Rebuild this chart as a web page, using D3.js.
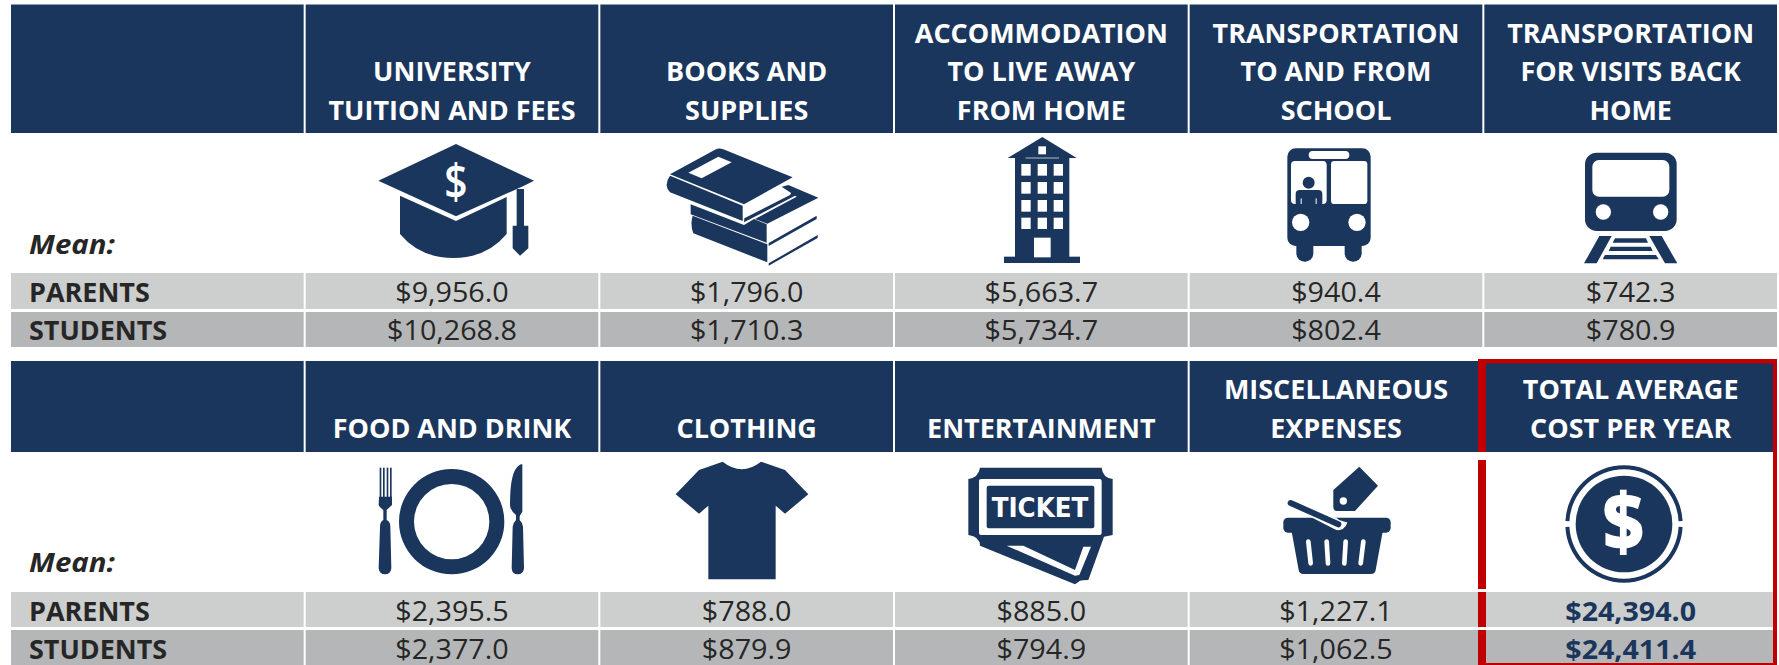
<!DOCTYPE html>
<html><head><meta charset="utf-8">
<script src="https://cdn.jsdelivr.net/npm/d3@7/dist/d3.min.js"></script>
<style>html,body{margin:0;background:#fff;overflow:hidden}svg{display:block}text{font-family:"Open Sans",sans-serif}</style>
</head><body><svg id="c" width="1779" height="665"></svg>
<script>
// ---- data ----
const headersTop = [["UNIVERSITY","TUITION AND FEES"],["BOOKS AND","SUPPLIES"],["ACCOMMODATION","TO LIVE AWAY","FROM HOME"],["TRANSPORTATION","TO AND FROM","SCHOOL"],["TRANSPORTATION","FOR VISITS BACK","HOME"]];
const headersBottom = [["FOOD AND DRINK"],["CLOTHING"],["ENTERTAINMENT"],["MISCELLANEOUS","EXPENSES"],["TOTAL AVERAGE","COST PER YEAR"]];
const parentsTop = [9956.0,1796.0,5663.7,940.4,742.3];
const studentsTop = [10268.8,1710.3,5734.7,802.4,780.9];
const parentsBottom = [2395.5,788.0,885.0,1227.1,24394.0];
const studentsBottom = [2377.0,879.9,794.9,1062.5,24411.4];
const rowLabels = ["PARENTS","STUDENTS"];
const meanLabel = "Mean:";

const NAVY="#1b365d", ROW1="#cdcfce", ROW2="#b5b6b8", INK="#262626", RED="#c00000";
const svg=d3.select("#c");
const x=d3.scaleBand().domain(d3.range(6)).range([11,1777]).paddingInner(2/294.4);
const fmt=d3.format("$,.1f");

// panels: vertical layout
const panels=[
 {head:headersTop,p:parentsTop,s:studentsTop,y0:4.5,y1:133,r1:[273,309],r2:[312,347],base:[42.5,81,119.5],mean:254,bl1:301.5,bl2:339.5},
 {head:headersBottom,p:parentsBottom,s:studentsBottom,y0:361,y1:452,r1:[592,627],r2:[630,665],base:[399.3,437.7],mean:572,bl1:620.5,bl2:658.5}
];
const FS=27.5, SX_H=0.98, SX_V=1.045, SX_T=1.04, SX_M=1.07;
function label(g,t,px,py,o){
  return g.append("text").attr("transform",`translate(${px},${py}) scale(${o.sx},1)`)
   .attr("text-anchor",o.anchor||"middle").attr("font-size",FS).attr("font-weight",o.weight||400)
   .attr("font-style",o.style||"normal").attr("fill",o.fill).text(t);
}
panels.forEach(P=>{
  const g=svg.append("g");
  d3.range(6).forEach(i=>{
    g.append("rect").attr("x",x(i)).attr("y",P.y0).attr("width",x.bandwidth()).attr("height",P.y1-P.y0).attr("fill",NAVY);
    g.append("rect").attr("x",x(i)).attr("y",P.r1[0]).attr("width",x.bandwidth()).attr("height",P.r1[1]-P.r1[0]).attr("fill",ROW1);
    g.append("rect").attr("x",x(i)).attr("y",P.r2[0]).attr("width",x.bandwidth()).attr("height",P.r2[1]-P.r2[0]).attr("fill",ROW2);
  });
  label(g,meanLabel,29,P.mean,{sx:SX_M,weight:700,style:"italic",fill:INK,anchor:"start"});
  label(g,rowLabels[0],29,P.bl1,{sx:SX_H,weight:700,fill:INK,anchor:"start"});
  label(g,rowLabels[1],29,P.bl2,{sx:SX_H,weight:700,fill:INK,anchor:"start"});
  P.head.forEach((lines,i)=>{
    const cx=x(i+1)+x.bandwidth()/2;
    const offs=P.base.slice(-lines.length);
    lines.forEach((t,k)=>label(g,t,cx,offs[k],{sx:SX_H,weight:700,fill:"#fff"}));
    const total=P===panels[1]&&i===4;
    label(g,fmt(P.p[i]),cx,P.bl1,{sx:total?SX_T:SX_V,weight:total?700:400,fill:total?NAVY:INK});
    label(g,fmt(P.s[i]),cx,P.bl2,{sx:total?SX_T:SX_V,weight:total?700:400,fill:total?NAVY:INK});
  });
});

// ---- icons (drawn in 3x local units, placed at their crop origin) ----
function icon(ox,oy){return svg.append("g").attr("transform",`translate(${ox},${oy}) scale(${1/3})`).attr("fill",NAVY);}
function rr(g,x0,y0,x1,y1,r,f){return g.append("rect").attr("x",x0).attr("y",y0).attr("width",x1-x0).attr("height",y1-y0).attr("rx",r||0).attr("fill",f||NAVY);}
function pa(g,d,f){return g.append("path").attr("d",d).attr("fill",f||NAVY);}
function ci(g,cx,cy,r,f){return g.append("circle").attr("cx",cx).attr("cy",cy).attr("r",r).attr("fill",f||NAVY);}

// graduation cap
{const g=icon(360,135);
 pa(g,"M288,27L522,137L492,152L288,244L55,137Z");
 pa(g,"M120,182L288,258L440,186V297Q380,369 280,369Q180,369 120,297Z");
 rr(g,470,162,492,274);
 pa(g,"M458,272H505V340L480,362L458,340Z");
 g.append("text").attr("transform","translate(288,192) scale(.85,1)").attr("text-anchor","middle").attr("font-size",144).attr("font-weight",600).attr("fill","#fff").text("$");
}
// books
{const g=icon(650,135);
 pa(g,"M128,242L352,328V382L130,295Q120,270 128,242Z");
 pa(g,"M356,385L503,300V309L356,392Z");
 pa(g,"M122,208L282,270L312,252L350,268V323L122,238Z");
 pa(g,"M356,324L500,242V252L356,333Z");
 pa(g,"M395,155L415,150L505,188L352,266L315,252L440,185Z");
 pa(g,"M282,262L438,181L425,172L420,180L283,250Z");
 pa(g,"M195,44Q207,37 220,43L428,127L282,208L60,118Z");
 pa(g,"M205,65L245,82L155,130L115,113Z","#fff");
 pa(g,"M60,122L278,212V258L60,172Q40,150 60,122Z");
}
// building + bus
{const g=icon(980,135);
 pa(g,"M187,6L290,69H83Z");
 rr(g,175,34,198,58,0,"#fff");
 rr(g,105,69,268,366);
 rr(g,72,365,300,384);
 rr(g,137,67,237,71,0,"#8e9cb1");
 [124,173,221].forEach(a=>[[87,122],[141,176],[195,230],[248,282]].forEach(b=>rr(g,a,b[0],a+28,b[1],0,"#fff")));
 rr(g,162,308,212,367,0,"#fff");
 rr(g,922,40,1172,333,25);
 rr(g,949,300,1000,380,25);rr(g,1094,300,1145,380,25);
 rr(g,986,48,1108,72,12,"#fff");
 rr(g,933,78,1040,207,12,"#fff");
 rr(g,1053,78,1162,207,10,"#fff");
 ci(g,986,143,18);
 rr(g,947,165,1027,215,12);
 rr(g,962,190,965,207,0,"#fff");rr(g,1007,190,1010,207,0,"#fff");
 ci(g,962,262,26,"#fff");ci(g,1131,262,26,"#fff");
}
// train
{const g=icon(1560,140);
 rr(g,75,38,350,273,35);
 rr(g,97,60,328,170,20,"#fff");
 ci(g,130,216,23,"#fff");ci(g,302,216,23,"#fff");
 pa(g,"M118,288H155L110,370H72Z");
 pa(g,"M268,288H305L352,370H315Z");
 pa(g,"M165,295H258L264,308H158Z");
 pa(g,"M152,320H272L278,333H146Z");
 pa(g,"M135,345H288L296,358H128Z");
}
// fork, plate, knife, t-shirt
{const g=icon(360,455);
 g.append("path").attr("fill",NAVY)
  .attr("d",d3.arc()({innerRadius:113,outerRadius:158,startAngle:0,endAngle:2*Math.PI})).attr("transform","translate(275,200)");
 [59,69,80,90].forEach(a=>rr(g,a,38,a+5,130));
 pa(g,"M57,125H96V150Q85,160 80,165V195Q91,200 91,215L94,340Q92,358 75,358Q58,358 56,340L60,215Q60,200 70,195V165Q57,155 56,150Z");
 pa(g,"M487,28V170Q480,180 479,185V195Q489,205 489,215L492,340Q490,358 473,358Q456,358 455,340L458,215Q458,205 468,195V180Q450,165 450,150Q450,60 470,38Q480,25 487,28Z");
 pa(g,"M1088,20Q1145,65 1203,20L1275,45L1345,118L1275,176L1247,152V373H1045V152L1017,176L947,118L1017,45Z");
}
// ticket, basket
{const g=icon(950,455);
 pa(g,"M90,38H455Q458,68 488,72V240L462,245L415,375Q395,375 390,377L375,388L90,272Q90,245 55,240V72Q85,68 90,38Z");
 rr(g,87,72,455,240,6,"#fff");
 rr(g,110,92,433,220,6);
 g.append("text").attr("x",270).attr("y",186).attr("text-anchor","middle").attr("font-size",78).attr("font-weight",700)
  .attr("fill","#fff").style("font-family","'DejaVu Sans'").attr("textLength",290).attr("lengthAdjust","spacingAndGlyphs").text("TICKET");
 pa(g,"M170,272H220L375,345L400,275H423L388,360L375,362Z","#fff");
 pa(g,"M1228,35L1284,92L1215,168H1160Q1150,168 1150,155V105Z");
 ci(g,1180,138,11,"#fff");
 rr(g,1000,188,1322,233,14);
 pa(g,"M1025,230H1298L1277,345Q1275,357 1263,357H1060Q1048,357 1046,345Z");
 [[1075,260,1082,325],[1130,260,1134,325],[1187,260,1183,325],[1240,260,1232,325]].forEach(d=>
  g.append("line").attr("x1",d[0]).attr("y1",d[1]).attr("x2",d[2]).attr("y2",d[3]).attr("stroke","#fff").attr("stroke-width",14).attr("stroke-linecap","round"));
 g.append("path").attr("d","M1090,172L1160,208Q1172,214 1177,198").attr("fill","none").attr("stroke","#fff").attr("stroke-width",32).attr("stroke-linecap","butt");
 g.append("line").attr("x1",1022).attr("y1",144).attr("x2",1165).attr("y2",208).attr("stroke",NAVY).attr("stroke-width",18).attr("stroke-linecap","round");
}
// coin
{const g=icon(1470,355);
 ci(g,462,507,145);
 const ring=d3.arc().innerRadius(164).outerRadius(176);
 const gap=0.05;
 [[gap,Math.PI-gap],[Math.PI+gap,2*Math.PI-gap]].forEach(a=>
  g.append("path").attr("transform","translate(462,507)").attr("d",ring({startAngle:a[0]-Math.PI/2,endAngle:a[1]-Math.PI/2})).attr("fill",NAVY));
 g.append("text").attr("transform","translate(460,586) scale(.9,1)").attr("text-anchor","middle").attr("font-size",240).attr("font-weight",800).attr("fill","#fff").text("$");
}
// red frame
const fr=svg.append("g").attr("fill",RED);
[[1478,359,299,4.5],[1478,359,8,93],[1478,460,8,129],[1478,592,8,35],[1478,630,8,35],[1773,359,4,306],[1478,663,299,2]]
 .forEach(r=>fr.append("rect").attr("x",r[0]).attr("y",r[1]).attr("width",r[2]).attr("height",r[3]));
</script></body></html>
